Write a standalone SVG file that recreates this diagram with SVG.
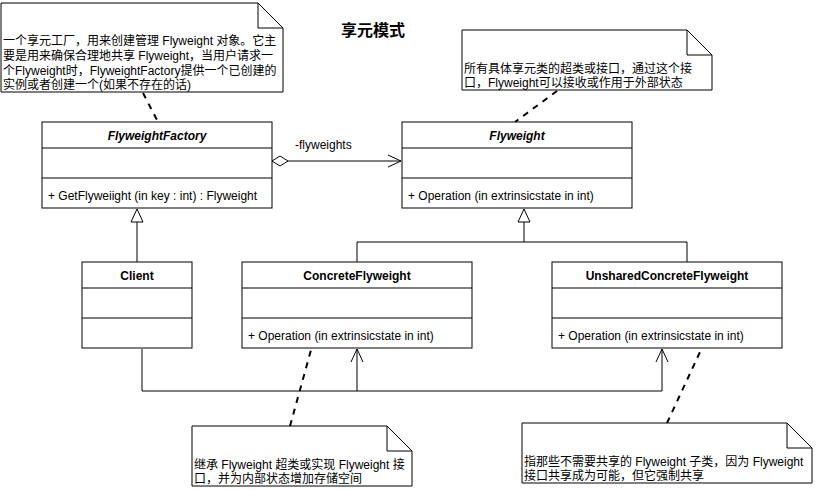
<svg xmlns="http://www.w3.org/2000/svg" width="816" height="490" viewBox="0 0 816 490">
<style>
text{font-family:"Liberation Sans","Noto Sans CJK SC",Arial,sans-serif;font-size:12px;fill:#000}
.b{font-weight:bold;text-anchor:middle}
.bi{font-weight:bold;font-style:italic;text-anchor:middle}
.box{fill:#fff;stroke:#000;stroke-width:1}
.ln{fill:none;stroke:#000;stroke-width:1}
.dash{fill:none;stroke:#000;stroke-width:2;stroke-dasharray:6,6}
</style>
<defs>
<marker id="tri" markerWidth="14" markerHeight="16" refX="7" refY="1" orient="auto-start-reverse" markerUnits="userSpaceOnUse" viewBox="0 0 14 16">
<path d="M7,1 L13,14 L1,14 Z" fill="#fff" stroke="#000"/>
</marker>
</defs>
<rect width="816" height="490" fill="#fff"/>
<text x="373" y="36" class="b" style="font-size:16px">享元模式</text>

<g id="connectors">
<line x1="143" y1="93" x2="158" y2="122" class="dash"/>
<line x1="557" y1="91" x2="515" y2="122" class="dash"/>
<line x1="290" y1="426" x2="311" y2="350" class="dash"/>
<line x1="667" y1="423" x2="700" y2="352" class="dash"/>
<path d="M288,161 H401" class="ln"/>
<path d="M272,161 L280,156 L288,161 L280,166 Z" fill="#fff" stroke="#000"/>
<path d="M388,155 L401,161 L388,167" class="ln"/>
<text x="295" y="149">-flyweights</text>
<path d="M137,262 V222" class="ln"/>
<path d="M137,209 L143,222 L131,222 Z" fill="#fff" stroke="#000"/>
<path d="M524,222 V242 M357,262 V242 H687 V262" class="ln"/>
<path d="M524,209 L530,222 L518,222 Z" fill="#fff" stroke="#000"/>
<path d="M142,349 V391 H662 V349 M357,391 V349" class="ln"/>
<path d="M351,362 L357,349 L363,362 M656,362 L662,349 L668,362" class="ln"/>
</g>

<g id="note1">
<path d="M1,3 H258 L283,28 V92 H1 Z" class="box"/>
<path d="M258,3 V28 H283" class="ln"/>
<text x="3" y="45">一个享元工厂，用来创建管理 Flyweight 对象。它主</text>
<text x="3" y="60">要是用来确保合理地共享 Flyweight，当用户请求一</text>
<text x="3" y="75">个Flyweight时，FlyweightFactory提供一个已创建的</text>
<text x="3" y="89">实例或者创建一个(如果不存在的话)</text>
</g>

<g id="note2">
<path d="M462,30 H687 L712,55 V90 H462 Z" class="box"/>
<path d="M687,30 V55 H712" class="ln"/>
<text x="464" y="73">所有具体享元类的超类或接口，通过这个接</text>
<text x="464" y="87">口，Flyweight可以接收或作用于外部状态</text>
</g>

<g id="FlyweightFactory">
<rect x="42" y="122" width="230" height="86" class="box"/>
<path d="M42,148 H272 M42,178 H272" class="ln"/>
<text x="157" y="140" class="bi">FlyweightFactory</text>
<text x="48" y="200">+ GetFlyweiight (in key : int) : Flyweight</text>
</g>

<g id="Flyweight">
<rect x="402" y="122" width="230" height="86" class="box"/>
<path d="M402,148 H632 M402,178 H632" class="ln"/>
<text x="517" y="140" class="bi">Flyweight</text>
<text x="408" y="200">+ Operation (in extrinsicstate in int)</text>
</g>

<g id="Client">
<rect x="82" y="262" width="110" height="86" class="box"/>
<path d="M82,288 H192 M82,318 H192" class="ln"/>
<text x="137" y="280" class="b">Client</text>
</g>

<g id="ConcreteFlyweight">
<rect x="242" y="262" width="230" height="86" class="box"/>
<path d="M242,288 H472 M242,318 H472" class="ln"/>
<text x="357" y="280" class="b">ConcreteFlyweight</text>
<text x="248" y="340">+ Operation (in extrinsicstate in int)</text>
</g>

<g id="UnsharedConcreteFlyweight">
<rect x="552" y="262" width="230" height="86" class="box"/>
<path d="M552,288 H782 M552,318 H782" class="ln"/>
<text x="667" y="280" class="b">UnsharedConcreteFlyweight</text>
<text x="558" y="340">+ Operation (in extrinsicstate in int)</text>
</g>

<g id="note3">
<path d="M192,426 H387 L412,451 V486 H192 Z" class="box"/>
<path d="M387,426 V451 H412" class="ln"/>
<text x="194" y="469">继承 Flyweight 超类或实现 Flyweight 接</text>
<text x="194" y="483">口，并为内部状态增加存储空间</text>
</g>

<g id="note4">
<path d="M522,423 H787 L812,448 V483 H522 Z" class="box"/>
<path d="M787,423 V448 H812" class="ln"/>
<text x="524" y="466">指那些不需要共享的 Flyweight 子类，因为 Flyweight</text>
<text x="524" y="480">接口共享成为可能，但它强制共享</text>
</g>
</svg>
